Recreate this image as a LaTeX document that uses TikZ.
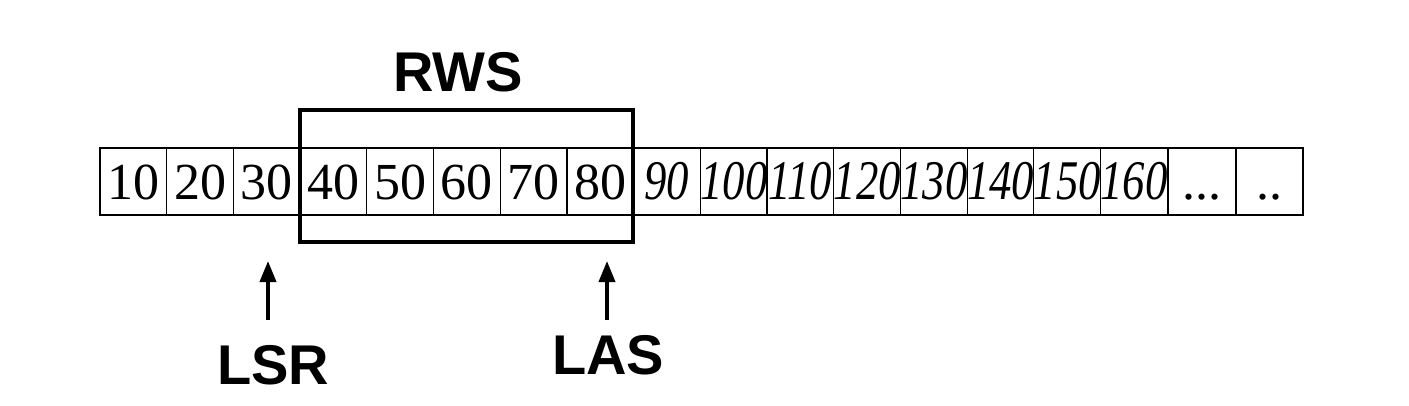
\documentclass[tikz,border=0pt]{standalone}
\usepackage{fontspec}
\setmainfont{Liberation Serif}
\newfontfamily\labelfont{Liberation Sans}
\newfontface\slantnum{Liberation Serif Italic}[FakeStretch=0.8]
\usetikzlibrary{arrows.meta}

\begin{document}
\begin{tikzpicture}[x=1pt, y=-1pt,
    cell/.style={draw, line width=1.2pt, minimum width=66.7pt, minimum height=67pt,
                 text width=66.7pt, align=center, text height=36pt, text depth=0pt,
                 inner sep=0pt, font=\fontsize{52}{56}\selectfont},
    tag/.style={font=\labelfont\bfseries\fontsize{56}{60}\selectfont, inner sep=0pt},
    pointer/.style={line width=3.8pt, -{Triangle[width=16pt, length=21pt]}}]
    \useasboundingbox (0,0) rectangle (1409,405);
    % row of numbered cells
    \foreach \v [count=\i] in {10,20,30,40,50,60,70,80}
        \node[cell] (c\i) at ({100+66.7*(\i-0.5)},181.5) {\v};
    \foreach \v [count=\i from 9] in {90,100,110,120,130,140,150,160}
        \node[cell, font=\slantnum\fontsize{56}{60}\selectfont] (c\i) at ({100+66.7*(\i-0.5)},181.5) {\v};
    \node[cell, anchor=west] (c17) at (c16.east) {...};
    \node[cell, anchor=west] (c18) at (c17.east) {..};
    % window
    \node[draw, line width=4pt, minimum width=333pt, minimum height=132pt, inner sep=0pt]
        (win) at (466.5,176) {};
    \node[tag] (rws) at (458,72) {RWS};
    % pointers
    \node[tag] (lsr) at (273,365) {LSR};
    \node[tag] (las) at (608,355) {LAS};
    \coordinate (lsrtail) at (268,320);
    \coordinate (lsrtip) at (268,261);
    \coordinate (lastail) at (607,320);
    \coordinate (lastip) at (607,261);
    \draw[pointer] (lsrtail) -- (lsrtip);
    \draw[pointer] (lastail) -- (lastip);
\end{tikzpicture}
\end{document}
